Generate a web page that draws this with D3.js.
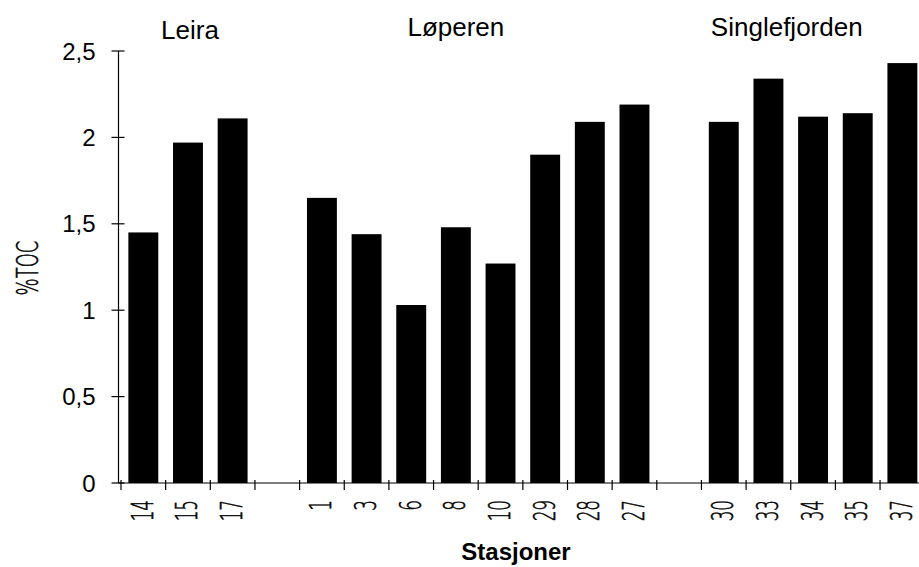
<!DOCTYPE html>
<html>
<head>
<meta charset="utf-8">
<script src="https://cdn.jsdelivr.net/npm/d3@7"></script>
<style>
  html, body { margin: 0; padding: 0; background: #fff; }
  svg { display: block; }
  text { font-family: "Liberation Sans", Arial, sans-serif; fill: #000; }
  text.thin { font-family: "DejaVu Sans", "Liberation Sans", sans-serif; font-weight: 200; stroke: #000; stroke-width: 0.6px; }
</style>
</head>
<body>
<svg id="chart" width="919" height="567"></svg>
<script>
// ---- data ----
const slots = ["14", "15", "17", "gap1", "1", "3", "6", "8", "10", "29", "28", "27", "gap2", "30", "33", "34", "35", "37"];
const stations = ["14", "15", "17", "1", "3", "6", "8", "10", "29", "28", "27", "30", "33", "34", "35", "37"];
const toc = [1.45, 1.97, 2.11, 1.65, 1.44, 1.03, 1.48, 1.27, 1.90, 2.09, 2.19, 2.09, 2.34, 2.12, 2.14, 2.43];
const groups = ["Leira", "Løperen", "Singlefjorden"];
const yTicks = [0, 0.5, 1, 1.5, 2, 2.5];
const yTickLabels = ["0", "0,5", "1", "1,5", "2", "2,5"];
const yTitle = "%TOC";
const xTitle = "Stasjoner";

// ---- layout ----
const svg = d3.select("#chart");
const x0 = 121, step = 44.65;
const x = d3.scaleBand().domain(slots).range([x0, x0 + step * slots.length])
  .paddingInner(0.33).paddingOuter(0.165);
const y = d3.scaleLinear().domain([0, 2.5]).range([483, 51]);
const axisX = 118.5;

// bars
svg.append("g").selectAll("rect")
  .data(stations.map((s, i) => ({ s, v: toc[i] })))
  .join("rect")
  .attr("x", d => x(d.s))
  .attr("width", x.bandwidth())
  .attr("y", d => y(d.v))
  .attr("height", d => y(0) - y(d.v))
  .attr("fill", "#000");

// y axis
const yAxis = svg.append("g");
yAxis.append("line").attr("x1", axisX).attr("x2", axisX)
  .attr("y1", y(2.5)).attr("y2", y(0)).attr("stroke", "#000").attr("stroke-width", 1.2);
yAxis.selectAll("line.tick").data(yTicks).join("line").attr("class", "tick")
  .attr("x1", axisX - 7).attr("x2", axisX + 6)
  .attr("y1", d => y(d)).attr("y2", d => y(d))
  .attr("stroke", "#000").attr("stroke-width", 1.2);
yAxis.selectAll("text").data(yTicks).join("text")
  .attr("x", axisX - 23).attr("y", d => y(d))
  .attr("dy", "0.36em")
  .attr("text-anchor", "end")
  .attr("font-size", 24)
  .text((d, i) => yTickLabels[i]);

// x axis
const xAxis = svg.append("g");
xAxis.append("line").attr("x1", axisX).attr("x2", 919)
  .attr("y1", y(0)).attr("y2", y(0)).attr("stroke", "#000").attr("stroke-width", 1.2);
const boundaries = d3.range(slots.length + 1).map(i => x0 + i * x.step());
xAxis.selectAll("line.tick").data(boundaries).join("line").attr("class", "tick")
  .attr("x1", d => d).attr("x2", d => d)
  .attr("y1", y(0) - 3).attr("y2", y(0) + 7)
  .attr("stroke", "#000").attr("stroke-width", 1.2);
xAxis.selectAll("text").data(stations).join("text")
  .attr("class", "thin")
  .attr("transform", d => `translate(${x(d) + x.bandwidth() / 2 + 9.5},${y(0) + 17}) rotate(-90) scale(0.56,1)`)
  .attr("text-anchor", "end")
  .attr("font-size", 30)
  .text(d => d);

// axis titles
svg.append("text")
  .attr("class", "thin")
  .attr("transform", `translate(38,268) rotate(-90) scale(0.6,1)`)
  .attr("text-anchor", "middle")
  .attr("font-size", 30)
  .text(yTitle);
svg.append("text")
  .attr("x", 516).attr("y", 560)
  .attr("text-anchor", "middle")
  .attr("font-size", 24)
  .attr("font-weight", "bold")
  .text(xTitle);

// group labels
const groupX = [
  x("15") + x.bandwidth() / 2 + 2,
  x("8") + x.bandwidth() / 2,
  x("33") + x.bandwidth() + (x.step() - x.bandwidth()) / 2 - 4
];
const groupY = [39, 36, 36];
svg.selectAll("text.group").data(groups).join("text").attr("class", "group")
  .attr("x", (d, i) => groupX[i]).attr("y", (d, i) => groupY[i])
  .attr("text-anchor", "middle")
  .attr("font-size", 26)
  .text(d => d);
</script>
</body>
</html>
